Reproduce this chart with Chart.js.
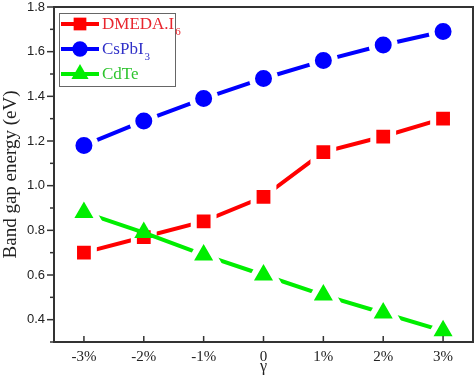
<!DOCTYPE html>
<html>
<head>
<meta charset="utf-8">
<script src="https://cdn.jsdelivr.net/npm/chart.js@4.4.0/dist/chart.umd.min.js"></script>
<style>
  body { margin: 0; background: #fff; }
  #wrap { width: 474px; height: 376px; }
</style>
</head>
<body>
<div id="wrap"><canvas id="gapChart" width="474" height="376"></canvas></div>
<script>
// strain values (%) and tick labels
const strain = [-3, -2, -1, 0, 1, 2, 3];
const strainLabels = ['-3%', '-2%', '-1%', '0', '1%', '2%', '3%'];
// band gaps (eV)
const dmeda = [0.70, 0.77, 0.84, 0.95, 1.15, 1.22, 1.30];
const cspbi = [1.18, 1.29, 1.39, 1.48, 1.56, 1.63, 1.69];
const cdte  = [0.88, 0.79, 0.69, 0.60, 0.51, 0.43, 0.35];
const yTicks = [0.4, 0.6, 0.8, 1.0, 1.2, 1.4, 1.6, 1.8];
const yMinor = [0.3, 0.5, 0.7, 0.9, 1.1, 1.3, 1.5, 1.7];

const pts = arr => arr.map((v, i) => ({ x: strain[i], y: v }));
const axisColor = '#333';
const serif = '"Liberation Serif", "Times New Roman", serif';

// legend entries: main text, subscript
const legendItems = [
  { text: 'DMEDA.I', sub: '6', color: '#ff0000', textColor: '#e8262e', style: 'rect', r: 10 },
  { text: 'CsPbI', sub: '3', color: '#0000ff', textColor: '#3030c8', style: 'circle', r: 8.5 },
  { text: 'CdTe', sub: '', color: '#00ee00', textColor: '#2ec42e', style: 'triangle', r: 11 }
];

const framePlugin = {
  id: 'frame',
  afterDraw(chart) {
    const { ctx, chartArea: a, scales } = chart;
    ctx.save();
    ctx.strokeStyle = axisColor;
    ctx.lineWidth = 2;
    ctx.strokeRect(a.left, a.top, a.right - a.left, a.bottom - a.top);
    // x ticks pointing inward
    ctx.lineWidth = 1.5;
    strain.forEach(v => {
      const x = scales.x.getPixelForValue(v);
      ctx.beginPath(); ctx.moveTo(x, a.bottom); ctx.lineTo(x, a.bottom - 6); ctx.stroke();
    });
    // y ticks outward, minor shorter
    yTicks.forEach(v => {
      const y = scales.y.getPixelForValue(v);
      ctx.beginPath(); ctx.moveTo(a.left, y); ctx.lineTo(a.left - 7, y); ctx.stroke();
    });
    yMinor.forEach(v => {
      const y = scales.y.getPixelForValue(v);
      ctx.beginPath(); ctx.moveTo(a.left, y); ctx.lineTo(a.left - 4, y); ctx.stroke();
    });

    // legend box
    const bx = 59, by = 13, bw = 116, bh = 73;
    ctx.fillStyle = '#fff';
    ctx.fillRect(bx, by, bw, bh);
    ctx.strokeStyle = '#666';
    ctx.lineWidth = 1;
    ctx.strokeRect(bx + 0.5, by + 0.5, bw, bh);
    legendItems.forEach((it, i) => {
      const cy = 24 + i * 25;
      ctx.strokeStyle = it.color;
      ctx.lineWidth = 4;
      ctx.beginPath(); ctx.moveTo(61, cy); ctx.lineTo(99, cy); ctx.stroke();
      ctx.fillStyle = it.color;
      Chart.helpers.drawPoint(ctx, { pointStyle: it.style, radius: it.r * 0.9, rotation: 0, borderWidth: 0 }, 80, cy);
      ctx.fillStyle = it.textColor;
      ctx.font = '17px ' + serif;
      ctx.textBaseline = 'middle';
      ctx.textAlign = 'left';
      ctx.fillText(it.text, 102, cy + 1);
      if (it.sub) {
        const w = ctx.measureText(it.text).width;
        ctx.font = '11px ' + serif;
        ctx.fillText(it.sub, 102 + w + 1, cy + 8);
      }
    });
    ctx.restore();
  }
};

// rPlain: marker radius without halo, rHalo: radius incl. white halo stroke
function series(label, data, color, style, rPlain, rHalo, order, noHalo) {
  const plain = c => noHalo.includes(c.dataIndex);
  return {
    label: label,
    data: pts(data),
    borderColor: color,
    backgroundColor: color,
    borderWidth: 4,
    pointStyle: style,
    pointRadius: c => (plain(c) ? rPlain : rHalo),
    pointHoverRadius: c => (plain(c) ? rPlain : rHalo),
    pointBackgroundColor: color,
    pointBorderColor: '#fff',
    pointBorderWidth: c => (plain(c) ? 0 : 6),
    tension: 0,
    order: order
  };
}

const ctx = document.getElementById('gapChart').getContext('2d');
new Chart(ctx, {
  type: 'line',
  data: {
    datasets: [
      series('CdTe', cdte, '#00ee00', 'triangle', 11, 17, 0, [1]),
      series('DMEDA.I6', dmeda, '#ff0000', 'rect', 10, 14, 1, []),
      series('CsPbI3', cspbi, '#0000ff', 'circle', 8.5, 11.5, 2, [])
    ]
  },
  options: {
    responsive: false,
    animation: false,
    layout: { autoPadding: false, padding: { top: 7, right: 1, left: 0, bottom: 0 } },
    plugins: { legend: { display: false }, tooltip: { enabled: false } },
    scales: {
      x: {
        type: 'linear',
        min: -3.5, max: 3.5,
        afterBuildTicks: s => { s.ticks = strain.map(v => ({ value: v })); },
        afterFit: s => { s.height = 34; s.paddingLeft = 0; s.paddingRight = 0; },
        grid: { display: false, drawTicks: false },
        border: { display: false },
        ticks: {
          padding: 6,
          color: '#222',
          font: { family: serif, size: 15 },
          callback: (v) => strainLabels[strain.indexOf(v)]
        },
        title: {
          display: true, text: 'γ', padding: { top: -5, bottom: 0 },
          color: '#222',
          font: { family: serif, size: 16 }
        }
      },
      y: {
        min: 0.3, max: 1.8,
        afterBuildTicks: s => { s.ticks = yTicks.map(v => ({ value: v })); },
        afterFit: s => { s.width = 54; s.paddingTop = 0; s.paddingBottom = 0; },
        grid: { display: false, drawTicks: false },
        border: { display: false },
        ticks: {
          padding: 9,
          color: '#222',
          font: { family: '"Liberation Sans", Arial, sans-serif', size: 13 },
          callback: v => v.toFixed(1)
        },
        title: {
          display: true, text: 'Band gap energy (eV)',
          padding: { top: 0, bottom: 0 },
          color: '#222',
          font: { family: serif, size: 19 }
        }
      }
    }
  },
  plugins: [framePlugin]
});
</script>
</body>
</html>
